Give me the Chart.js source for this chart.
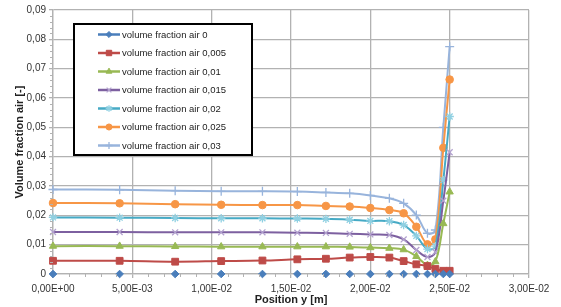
<!DOCTYPE html>
<html>
<head>
<meta charset="utf-8">
<script src="https://cdn.jsdelivr.net/npm/chart.js@4.4.1/dist/chart.umd.min.js"></script>
<style>
html,body{margin:0;padding:0;background:#fff;}
#wrap{position:relative;width:561px;height:307px;}
</style>
</head>
<body>
<div id="wrap"><canvas id="c" width="561" height="307"></canvas></div>
<script>
// ---- data ----
const positionY = [0, 0.0042, 0.0077, 0.0106, 0.0132, 0.0154, 0.0172, 0.0187, 0.0200, 0.0212, 0.0221, 0.0229, 0.0236, 0.0241, 0.0246, 0.0250];
const seriesNames = ["volume fraction air 0", "volume fraction air 0,005", "volume fraction air 0,01", "volume fraction air 0,015", "volume fraction air 0,02", "volume fraction air 0,025", "volume fraction air 0,03"];
const vfa0     = [0, 0, 0, 0, 0, 0, 0, 0, 0, 0, 0, 0, 0, 0, 0, 0];
const vfa0005  = [0.0045, 0.0045, 0.0042, 0.0044, 0.0046, 0.0050, 0.0052, 0.0056, 0.0058, 0.0056, 0.0044, 0.0033, 0.0027, 0.0017, 0.0011, 0.0011];
const vfa001   = [0.0095, 0.0095, 0.0094, 0.0093, 0.0093, 0.0093, 0.0093, 0.0092, 0.0090, 0.0088, 0.0083, 0.0060, 0.0030, 0.0042, 0.0172, 0.0280];
const vfa0015  = [0.0143, 0.0143, 0.0142, 0.0142, 0.0142, 0.0141, 0.0140, 0.0137, 0.0135, 0.0133, 0.0118, 0.0082, 0.0058, 0.0075, 0.0250, 0.0415];
const vfa002   = [0.0193, 0.0192, 0.0191, 0.0190, 0.0190, 0.0189, 0.0188, 0.0185, 0.0181, 0.0180, 0.0167, 0.0130, 0.0085, 0.0095, 0.0320, 0.0537];
const vfa0025  = [0.0242, 0.0241, 0.0238, 0.0236, 0.0235, 0.0235, 0.0232, 0.0230, 0.0225, 0.0218, 0.0207, 0.0161, 0.0101, 0.0118, 0.0430, 0.0663];
const vfa003   = [0.0288, 0.0287, 0.0284, 0.0282, 0.0282, 0.0281, 0.0278, 0.0275, 0.0268, 0.0258, 0.0241, 0.0201, 0.0139, 0.0150, 0.0500, 0.0775];
const xTickValues = [0, 0.005, 0.01, 0.015, 0.02, 0.025, 0.03];
const xTickLabels = ["0,00E+00", "5,00E-03", "1,00E-02", "1,50E-02", "2,00E-02", "2,50E-02", "3,00E-02"];
const yTickValues = [0, 0.01, 0.02, 0.03, 0.04, 0.05, 0.06, 0.07, 0.08, 0.09];
const yTickLabels = ["0", "0,01", "0,02", "0,03", "0,04", "0,05", "0,06", "0,07", "0,08", "0,09"];
const xTitle = "Position y [m]";
const yTitle = "Volume fraction air [-]";

// ---- styles ----
const allSeries = [vfa0, vfa0005, vfa001, vfa0015, vfa002, vfa0025, vfa003];
const lineColors = ['#4a7ebb', '#be4b48', '#98b954', '#7d60a0', '#46aac5', '#f79646', '#98b4dc'];
const markColors = ['#4a7ebb', '#be4b48', '#98b954', '#b3a2cf', '#8fd0e2', '#f79646', '#98b4dc'];
const markStyles = ['rectRot', 'rect', 'triangle', 'crossRot', 'star', 'circle', 'cross'];
const markRadius = [3.8, 4.8, 4.2, 4.2, 4.2, 3.8, 4.5];
const lineShown = [false, true, true, true, true, true, true];

const datasets = allSeries.map((vals, i) => ({
  label: seriesNames[i],
  data: positionY.map((x, j) => ({x: x, y: vals[j]})),
  showLine: lineShown[i],
  tension: 0.38,
  borderColor: lineColors[i],
  borderWidth: 2,
  backgroundColor: markColors[i],
  pointBackgroundColor: markColors[i],
  pointBorderColor: markColors[i],
  pointStyle: markStyles[i],
  pointRadius: markRadius[i],
  pointBorderWidth: (markStyles[i] === 'crossRot' || markStyles[i] === 'star' || markStyles[i] === 'cross') ? 1.3 : 1,
  pointHoverRadius: markRadius[i],
  clip: false
}));

const GRID = '#b2b2b2';

const minorTicks = {
  id: 'minorTicks',
  afterDraw(chart) {
    const ctx = chart.ctx;
    const xs = chart.scales.x, ys = chart.scales.y;
    const a = chart.chartArea;
    ctx.save();
    ctx.strokeStyle = GRID;
    ctx.lineWidth = 1;
    for (let k = 0; k <= 30; k++) {
      if (k % 5 === 0) continue;
      const px = Math.round(xs.getPixelForValue(k * 0.001)) + 0.5;
      ctx.beginPath(); ctx.moveTo(px, a.bottom); ctx.lineTo(px, a.bottom + 3); ctx.stroke();
    }
    for (let k = 0; k <= 45; k++) {
      if (k % 5 === 0) continue;
      const py = Math.round(ys.getPixelForValue(k * 0.002)) + 0.5;
      ctx.beginPath(); ctx.moveTo(a.left - 3, py); ctx.lineTo(a.left, py); ctx.stroke();
    }
    ctx.restore();
  }
};

const boxLegend = {
  id: 'boxLegend',
  afterDraw(chart) {
    const ctx = chart.ctx;
    const bx = 74, by = 24, bw = 178, bh = 131;
    ctx.save();
    ctx.fillStyle = '#ffffff';
    ctx.fillRect(bx, by, bw, bh);
    ctx.strokeStyle = '#000000';
    ctx.lineWidth = 2;
    ctx.strokeRect(bx, by, bw, bh);
    ctx.font = '9.5px "Liberation Sans", Arial, sans-serif';
    ctx.textBaseline = 'middle';
    chart.data.datasets.forEach((ds, i) => {
      const y = 34.5 + i * 18.5;
      ctx.strokeStyle = ds.borderColor;
      ctx.lineWidth = 2.5;
      ctx.beginPath(); ctx.moveTo(98, y); ctx.lineTo(120, y); ctx.stroke();
      ctx.fillStyle = ds.pointBackgroundColor;
      ctx.strokeStyle = ds.pointBorderColor;
      ctx.lineWidth = ds.pointBorderWidth;
      Chart.helpers.drawPoint(ctx, {pointStyle: ds.pointStyle, radius: ds.pointRadius * 0.8, rotation: 0, borderWidth: ds.pointBorderWidth}, 109, y);
      ctx.fillStyle = '#222222';
      ctx.fillText(ds.label, 122, y + 0.5);
    });
    ctx.restore();
  }
};

new Chart(document.getElementById('c'), {
  type: 'scatter',
  data: { datasets: datasets },
  plugins: [minorTicks, boxLegend],
  options: {
    responsive: false,
    animation: false,
    devicePixelRatio: 1,
    layout: { padding: { top: 10, right: 32, left: 0, bottom: 0 } },
    plugins: { legend: { display: false }, tooltip: { enabled: false } },
    scales: {
      x: {
        type: 'linear',
        min: 0, max: 0.03,
        afterBuildTicks(scale) { scale.ticks = xTickValues.map(v => ({value: v})); },
        afterFit(scale) { scale.height = 33; },
        ticks: {
          callback(v, idx) { return xTickLabels[idx]; },
          font: { family: '"Liberation Sans", Arial, sans-serif', size: 10 },
          color: '#333333',
          padding: 5,
          maxRotation: 0,
          autoSkip: false
        },
        grid: { color: GRID, lineWidth: 1.3, tickLength: 4, drawTicks: true },
        border: { color: GRID, width: 1.3 },
        title: {
          display: true, text: xTitle,
          font: { family: '"Liberation Sans", Arial, sans-serif', size: 11, weight: 'bold' },
          color: '#222222',
          padding: { top: 0, bottom: 0 }
        }
      },
      y: {
        type: 'linear',
        min: 0, max: 0.09,
        afterBuildTicks(scale) { scale.ticks = yTickValues.map(v => ({value: v})); },
        afterFit(scale) { scale.width = 53; },
        ticks: {
          callback(v, idx) { return yTickLabels[idx]; },
          font: { family: '"Liberation Sans", Arial, sans-serif', size: 10 },
          color: '#333333',
          padding: 3,
          autoSkip: false
        },
        grid: { color: GRID, lineWidth: 1.3, tickLength: 4, drawTicks: true },
        border: { color: GRID, width: 1.3 },
        title: {
          display: true, text: yTitle,
          font: { family: '"Liberation Sans", Arial, sans-serif', size: 11, weight: 'bold' },
          color: '#222222',
          padding: { top: 13, bottom: 0 }
        }
      }
    }
  }
});
</script>
</body>
</html>
